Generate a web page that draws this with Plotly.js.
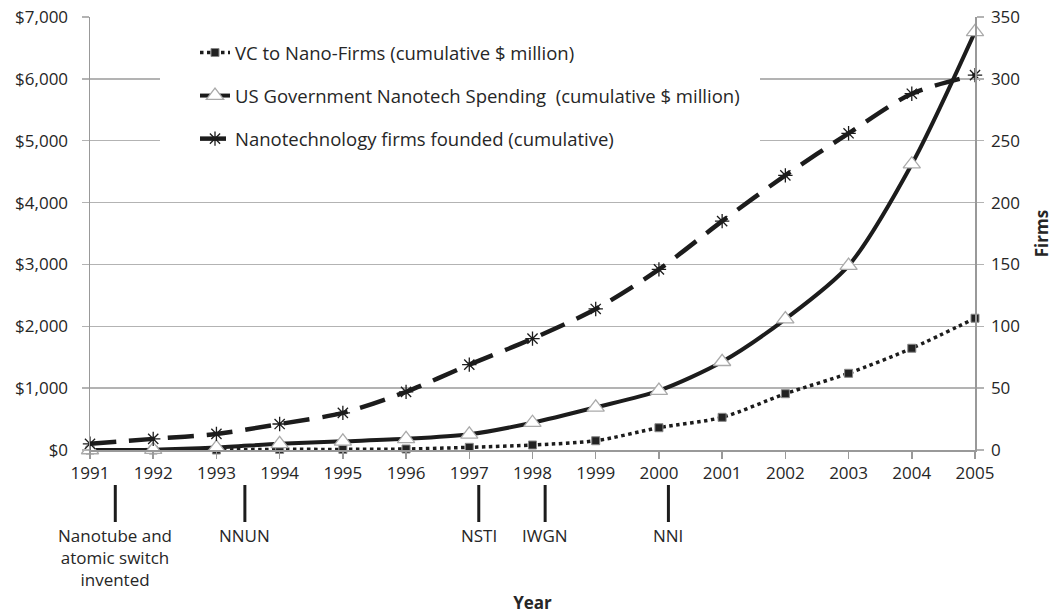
<!DOCTYPE html>
<html>
<head>
<meta charset="utf-8">
<script src="https://cdn.plot.ly/plotly-3.0.1.min.js"></script>
<style>html,body{margin:0;padding:0;background:#fff;}#chart{width:1063px;height:614px;}</style>
</head>
<body>
<div id="chart"></div>
<script>
const years = [1991,1992,1993,1994,1995,1996,1997,1998,1999,2000,2001,2002,2003,2004,2005];
const vcFunding = [0,0,0,10,10,16,43,81,150,360,528,910,1240,1645,2130];
const govSpending = [0,5,40,100,140,180,254,441,690,960,1427,2117,2980,4620,6760];
const firmsFounded = [5,9,13,21,30,47,69,90,114,146,185,222,256,288,303];
const seriesNames = [
  "VC to Nano-Firms (cumulative $ million)",
  "US Government Nanotech Spending  (cumulative $ million)",
  "Nanotechnology firms founded (cumulative)"
];
const eventYears = [1991.4, 1993.45, 1997.15, 1998.2, 2000.15];
const eventLabels = ["Nanotube and<br>atomic switch<br>invented", "NNUN", "NSTI", "IWGN", "NNI"];

const FONT = "'Open Sans', sans-serif";
const INK = "#1c1c1c";
const TXT = "#262626";
const GRID = "#b3b3b3";
const FS = 17;

const traces = [
  {
    x: years, y: vcFunding, name: seriesNames[0], type: "scatter", mode: "lines+markers",
    line: {color: INK, width: 3.5, dash: "dot", shape: "spline", smoothing: 0.8},
    marker: {symbol: "square", size: 8, color: "#222", line: {color: "#888", width: 1}},
    cliponaxis: false, legendgroup: "a"
  },
  {
    x: years, y: govSpending, name: seriesNames[1], type: "scatter", mode: "lines+markers",
    line: {color: INK, width: 4, shape: "spline", smoothing: 0.8},
    marker: {symbol: "triangle-up", size: 15, color: "#fff", line: {color: "#aaa", width: 1.3}},
    cliponaxis: false, legendgroup: "b"
  },
  {
    x: years, y: firmsFounded, name: seriesNames[2], type: "scatter", mode: "lines+markers", yaxis: "y2",
    line: {color: INK, width: 4.5, dash: "26px,13px", shape: "spline", smoothing: 0.8},
    marker: {symbol: "asterisk-open", size: 12, color: INK, line: {color: INK, width: 1.3}},
    cliponaxis: false, legendgroup: "c"
  }
];

const shapes = [
  {type: "rect", xref: "paper", yref: "paper", x0: (160-90)/885, x1: (760-90)/885,
   y0: (450-168)/433, y1: (450-28)/433, fillcolor: "#fff", line: {width: 0}, layer: "above"}
];
const annotations = [];
eventYears.forEach((ey, i) => {
  shapes.push({type: "line", xref: "x", yref: "paper", x0: ey, x1: ey,
    y0: -35/433, y1: -72/433, line: {color: INK, width: 3}});
  annotations.push({xref: "x", yref: "paper", x: ey, y: -72/433, yanchor: "top", xanchor: "center",
    text: eventLabels[i], showarrow: false, align: "center",
    font: {family: FONT, size: FS, color: TXT}});
});

const layout = {
  width: 1063, height: 614,
  margin: {l: 90, r: 88, t: 17, b: 164},
  paper_bgcolor: "#fff", plot_bgcolor: "#fff",
  font: {family: FONT, size: FS, color: TXT},
  showlegend: true,
  legend: {x: (195-90)/885, y: (450-34)/433, xanchor: "left", yanchor: "top",
    bgcolor: "rgba(0,0,0,0)", traceorder: "grouped", tracegroupgap: 16,
    font: {family: FONT, size: 18.5, color: TXT}},
  xaxis: {
    range: [1991, 2005], dtick: 1, tick0: 1991, tickformat: "d",
    showgrid: false, zeroline: false,
    showline: true, linecolor: "#999", linewidth: 1.5,
    ticks: "outside", ticklen: 7, tickcolor: "#999", tickwidth: 1.5,
    tickfont: {family: FONT, size: FS, color: TXT},
    title: {text: "<b>Year</b>", font: {family: FONT, size: FS, color: TXT}, standoff: 115},
    automargin: false
  },
  yaxis: {
    range: [0, 7000], dtick: 1000, tickprefix: "$", tickformat: ",d",
    showgrid: true, gridcolor: GRID, gridwidth: 1.5, zeroline: false,
    showline: true, linecolor: "#999", linewidth: 1.5,
    ticks: "outside", ticklen: 7, tickcolor: GRID, tickwidth: 1.5,
    ticklabelstandoff: 10,
    tickfont: {family: FONT, size: FS, color: TXT},
    automargin: false
  },
  yaxis2: {
    range: [0, 350], dtick: 50, overlaying: "y", side: "right",
    showgrid: false, zeroline: false,
    showline: true, linecolor: "#999", linewidth: 1.5,
    ticks: "outside", ticklen: 7, tickcolor: GRID, tickwidth: 1.5,
    ticklabelstandoff: 4,
    tickfont: {family: FONT, size: FS, color: TXT},
    title: {text: "<b>Firms</b>", font: {family: FONT, size: FS, color: TXT}, standoff: 17},
    automargin: false
  },
  shapes: shapes,
  annotations: annotations
};

Plotly.newPlot("chart", traces, layout, {displayModeBar: false, staticPlot: true});
</script>
</body>
</html>
